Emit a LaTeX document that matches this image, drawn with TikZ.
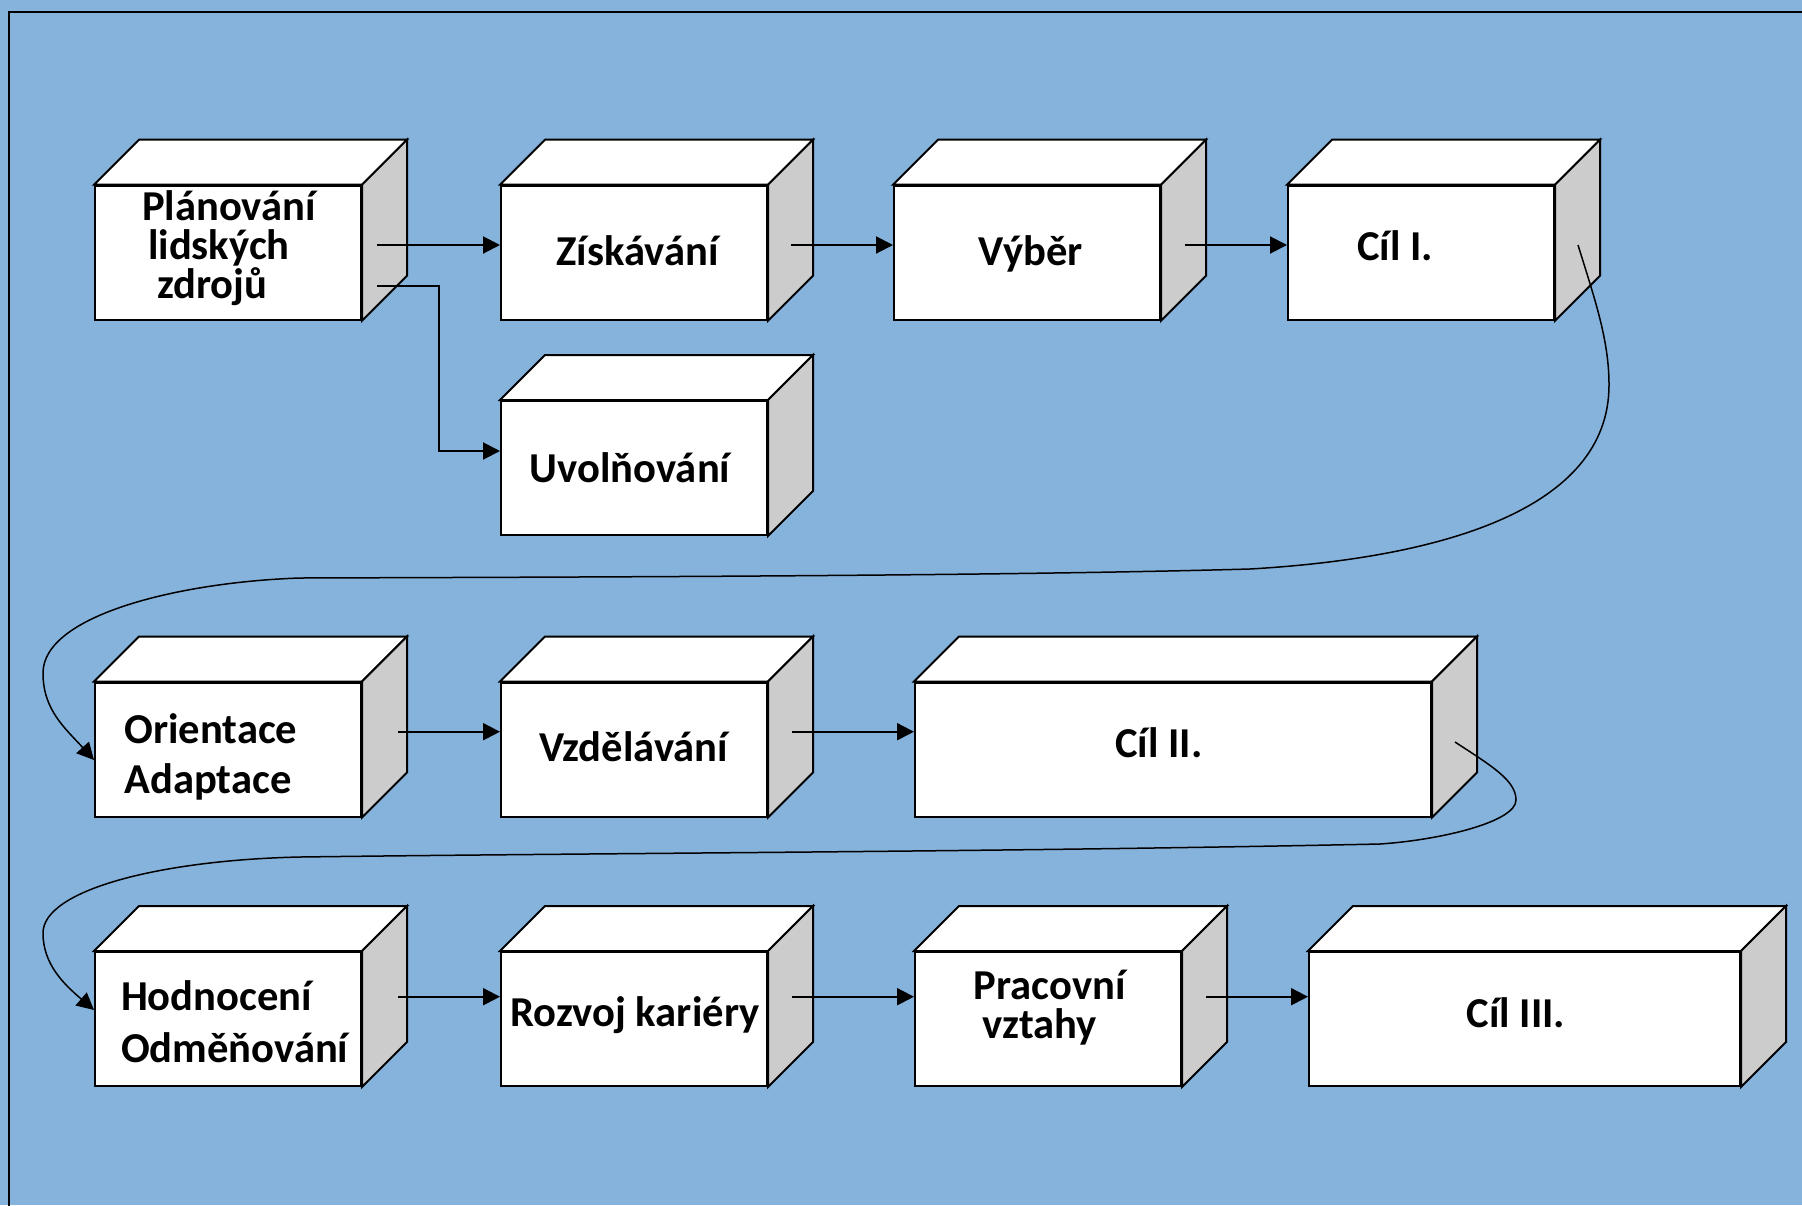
\documentclass[tikz,border=0pt]{standalone}
\usepackage{fontspec}
\setmainfont{Carlito}
\usetikzlibrary{arrows.meta,calc}
\definecolor{bgblue}{RGB}{134,179,220}
\definecolor{sidegray}{RGB}{204,204,204}
% top and side faces of a box whose front face is node #1
\newcommand\cubefaces[1]{%
  \filldraw[topface] (#1.north west) -- ++(45,-45) -- ($(#1.north east)+(45,-45)$) -- (#1.north east) -- cycle;
  \filldraw[sideface] (#1.north east) -- ++(45,-45) -- ($(#1.south east)+(45,-45)$) -- (#1.south east) -- cycle;}
\begin{document}
\begin{tikzpicture}[x=0.5pt,y=-0.5pt,
  cube/.style={draw=black, line width=1pt, fill=white, inner sep=0pt, minimum height=67pt, minimum width=133pt},
  topface/.style={draw=black, line width=1pt, fill=white},
  sideface/.style={draw=black, line width=1pt, fill=sidegray},
  lbl/.style={font=\bfseries\fontsize{21.3}{19.5}\selectfont, inner sep=0pt, align=left},
  arr/.style={line width=1pt, -{Triangle[length=8.5pt,width=8.5pt]}},
  bendarr/.style={line width=0.75pt, -{Triangle[length=8.5pt,width=8.5pt]}},
]
\clip (0,0) rectangle (1802,1205);
\fill[bgblue] (0,0) rectangle (1802,1205);
\draw[line width=1pt] (9,1230) -- (9,11.7) -- (1830,11.7);

% front faces
\node[cube] (plan)   at (228,252.7) {};
\node[cube] (zisk)   at (634,252.7) {};
\node[cube] (vyber)  at (1027,252.7) {};
\node[cube] (cil1)   at (1421,252.7) {};
\node[cube] (uvol)   at (634,468) {};
\node[cube] (orient) at (228,749.5) {};
\node[cube] (vzdel)  at (634,749.5) {};
\node[cube, minimum width=258pt] (cil2) at (1173,749.5) {};
\node[cube] (hodn)   at (228,1019) {};
\node[cube] (rozvoj) at (634,1019) {};
\node[cube] (prac)   at (1048,1019) {};
\node[cube, minimum width=215.5pt] (cil3) at (1524.5,1019) {};

\foreach \n in {plan,zisk,vyber,cil1,uvol,orient,vzdel,cil2,hodn,rozvoj,prac,cil3}{\cubefaces{\n}}

% labels (multi-line labels are placed by the baseline of their last line)
\node[lbl, anchor=base west] (plan-t) at (141.7,298) {Plánování\\\hspace*{3pt}lidských\\\hspace*{7.5pt}zdrojů};
\node[lbl, anchor=base] (zisk-t) at (637.5,265) {Získávání};
\node[lbl, anchor=base] (vyber-t) at (1031,265) {Výběr};
\node[lbl, anchor=base west] (cil1-t) at (1357,260) {Cíl I.};
\node[lbl, anchor=base] (uvol-t) at (630,482.7) {Uvolňování};
\node[lbl, anchor=base west, font=\bfseries\fontsize{21.3}{25}\selectfont] (orient-t) at (124,793.3) {Orientace\\Adaptace};
\node[lbl, anchor=base] (vzdel-t) at (633.6,761.7) {Vzdělávání};
\node[lbl, anchor=base] (cil2-t) at (1159,757) {Cíl II.};
\node[lbl, anchor=base west, font=\bfseries\fontsize{21.3}{26}\selectfont] (hodn-t) at (120.7,1062) {Hodnocení\\Odměňování};
\node[lbl, anchor=base] (rozvoj-t) at (635,1026.5) {Rozvoj kariéry};
\node[lbl, anchor=base west, font=\bfseries\fontsize{21.3}{19.5}\selectfont] (prac-t) at (973.3,1038.5) {Pracovní\\\hspace*{4.5pt}vztahy};
\node[lbl, anchor=base] (cil3-t) at (1516,1027.3) {Cíl III.};

% straight connectors
\draw[arr] ([shift={(15,-7.7)}]plan.east) coordinate (s1) -- (s1 -| zisk.west);
\draw[arr] ([shift={(23,-7.7)}]zisk.east) coordinate (s2) -- (s2 -| vyber.west);
\draw[arr] ([shift={(24,-7.7)}]vyber.east) coordinate (s3) -- (s3 -| cil1.west);
\draw[arr] ([shift={(15,33)}]plan.east) -- ++(62,0) |- ([shift={(0,-17)}]uvol.west);
\draw[arr] ([shift={(36,-17.8)}]orient.east) coordinate (s4) -- (s4 -| vzdel.west);
\draw[arr] ([shift={(24,-17.8)}]vzdel.east) coordinate (s5) -- (s5 -| cil2.west);
\draw[arr] ([shift={(36,-22.3)}]hodn.east) coordinate (s6) -- (s6 -| rozvoj.west);
\draw[arr] ([shift={(24,-22.3)}]rozvoj.east) coordinate (s7) -- (s7 -| prac.west);
\draw[arr] ([shift={(24,-22.3)}]prac.east) coordinate (s8) -- (s8 -| cil3.west);

% connectors that wrap to the next row
\draw[bendarr] ([shift={(23,-7.7)}]cil1.east)
  .. controls (1595,300) and (1609,340) .. (1609,385)
  .. controls (1609,510) and (1440,558) .. (1250,569)
  .. controls (1000,576) and (600,577) .. (300,578)
  .. controls (180,582) and (43,615) .. (43,673)
  .. controls (43,710) and (65,728) .. ([shift={(0,10.5)}]orient.west);
\draw[bendarr] ([shift={(23,-7.5)}]cil2.east)
  .. controls (1490,765) and (1516,780) .. (1516,800)
  .. controls (1516,822) and (1440,840) .. (1380,844)
  .. controls (1000,852) and (600,853) .. (300,857)
  .. controls (160,860) and (43,890) .. (43,933)
  .. controls (43,965) and (65,985) .. ([shift={(0,-9)}]hodn.west);
\end{tikzpicture}
\end{document}
